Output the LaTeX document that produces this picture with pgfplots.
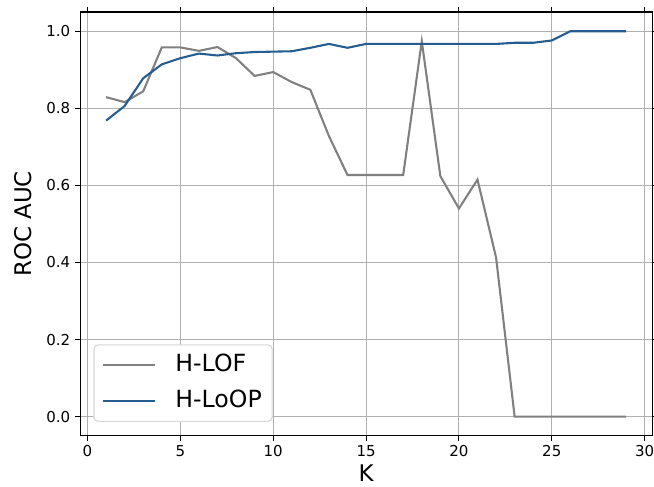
\documentclass[border=0pt]{standalone}
\usepackage{fontspec}
\setmainfont{DejaVu Sans}
\usepackage{pgfplots}
\pgfplotsset{compat=1.18}
\definecolor{loopblue}{RGB}{38,93,145}
\definecolor{lofgray}{RGB}{128,128,128}
\definecolor{gridgray}{RGB}{176,176,176}
\definecolor{legframe}{RGB}{215,215,215}
\begin{document}
\begin{tikzpicture}
\begin{axis}[
  scale only axis,
  width=411.5pt, height=305pt,
  xmin=-0.4, xmax=30.4,
  ymin=-0.05, ymax=1.05,
  xtick={0,5,10,15,20,25,30},
  ytick={0,0.2,0.4,0.6,0.8,1.0},
  yticklabel style={/pgf/number format/.cd, fixed, fixed zerofill, precision=1},
  /pgf/number format/assume math mode=true,
  tick label style={font=\fontsize{10.8}{12}\selectfont},
  tick align=outside,
  major tick length=3.5pt,
  tick style={black, line width=0.8pt},
  axis line style={line width=0.8pt},
  grid=major,
  grid style={gridgray, line width=0.8pt},
  xlabel={K},
  ylabel={ROC AUC},
  label style={font=\fontsize{16.5}{18}\selectfont},
  xlabel style={at={(axis description cs:0.5,-0.088)}, anchor=center},
  ylabel style={at={(axis description cs:-0.0996,0.5)}, anchor=center},
  legend cell align=left,
  legend style={at={(0.0233,0.033)}, anchor=south west, draw=legframe, line width=0.8pt, rounded corners=3pt,
    fill=white, font=\fontsize{17}{21}\selectfont, inner xsep=5.5pt, inner ysep=4.5pt, row sep=6pt, column sep=11.6pt,
    nodes={text height=12.5pt, text depth=3.5pt, inner sep=2pt}},
  legend image code/.code={\draw[#1] (0pt,0pt) -- (38pt,0pt);},
]
\addplot[lofgray, line width=1.5pt] coordinates {
(1,0.829) (2,0.816) (3,0.844) (4,0.958) (5,0.958) (6,0.949) (7,0.959) (8,0.930)
(9,0.884) (10,0.894) (11,0.868) (12,0.848) (13,0.728) (14,0.627) (15,0.627)
(16,0.627) (17,0.627) (18,0.974) (19,0.624) (20,0.540) (21,0.615) (22,0.413)
(23,0) (24,0) (25,0) (26,0) (27,0) (28,0) (29,0)
};
\addlegendentry{H-LOF}
\addplot[loopblue, line width=1.5pt] coordinates {
(1,0.768) (2,0.806) (3,0.878) (4,0.914) (5,0.930) (6,0.942) (7,0.937) (8,0.943)
(9,0.946) (10,0.947) (11,0.948) (12,0.957) (13,0.967) (14,0.957) (15,0.967)
(16,0.967) (17,0.967) (18,0.967) (19,0.967) (20,0.967) (21,0.967) (22,0.967)
(23,0.970) (24,0.970) (25,0.976) (26,1.0) (27,1.0) (28,1.0) (29,1.0)
};
\addlegendentry{H-LoOP}
\end{axis}
\pgfresetboundingbox
\path ([shift={(-57.6pt,-36.7pt)}]current axis.south west) rectangle ([shift={(1.4pt,8.6pt)}]current axis.north east);
\end{tikzpicture}
\end{document}
